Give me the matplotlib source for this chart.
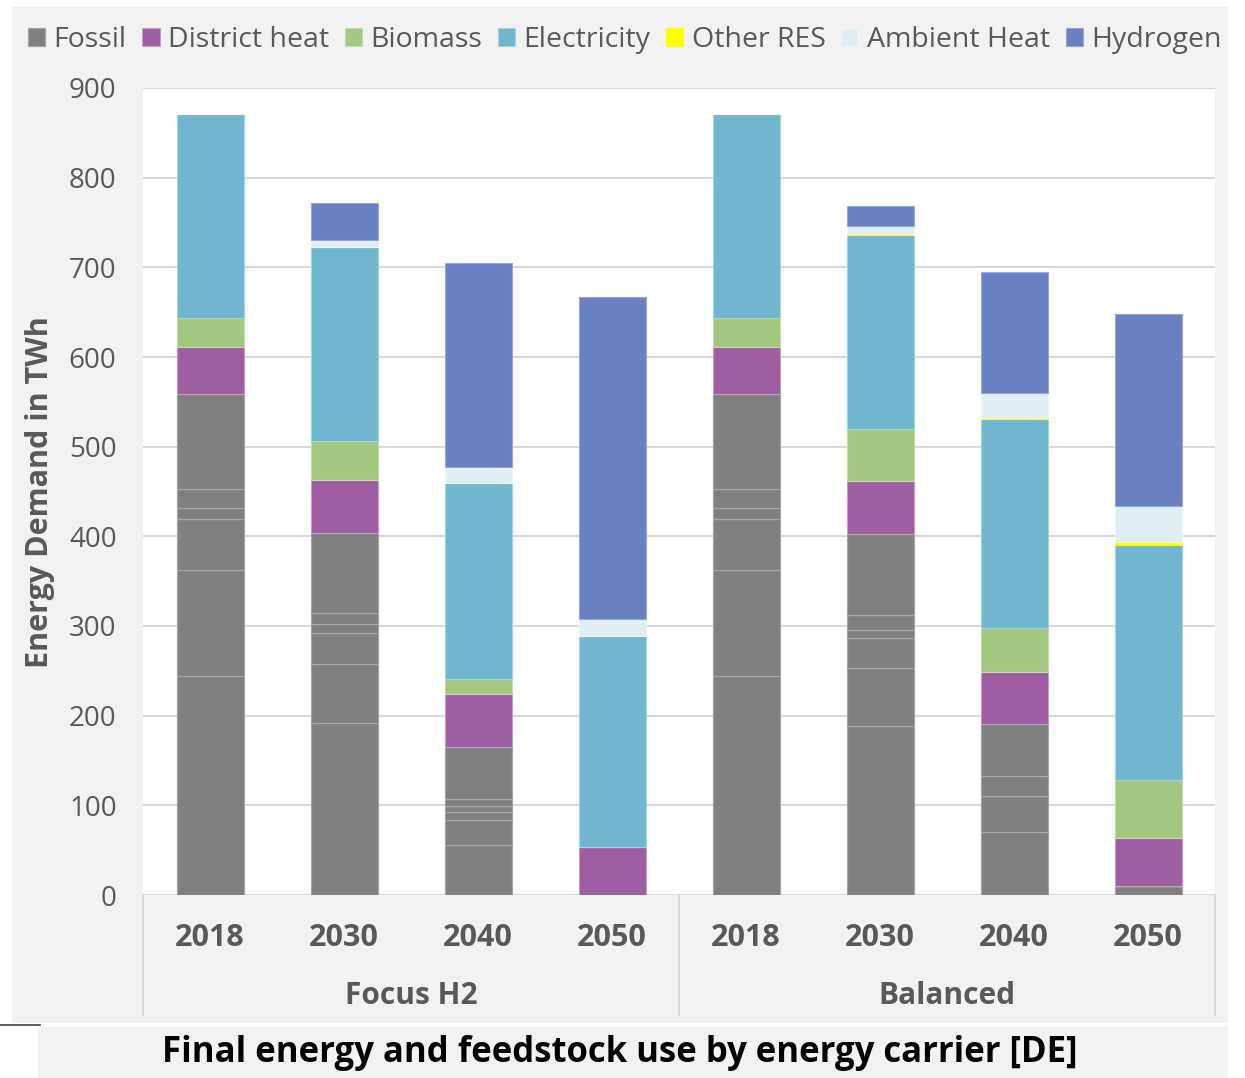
import numpy as np
import matplotlib.pyplot as plt
from matplotlib.patches import Rectangle
from matplotlib.lines import Line2D

plt.rcParams['font.family'] = ['Open Sans', 'DejaVu Sans']

# -----------------------------
# Data (TWh)
# -----------------------------
scenarios = ["Focus H2", "Balanced"]
years = ["2018", "2030", "2040", "2050"]

# fossil is split into several sub-carriers, all drawn in the same grey
fossil_layers = [
    [244.2, 191.5, 55.4, 0.0, 244.2, 188.8, 70.3, 9.7],
    [118.2, 65.7, 27.8, 0.0, 118.2, 64.0, 40.1, 0.0],
    [56.9, 34.6, 9.8, 0.0, 56.9, 33.5, 0.0, 0.0],
    [12.3, 10.0, 6.8, 0.0, 12.3, 9.2, 0.0, 0.0],
    [21.2, 13.0, 6.9, 0.0, 21.2, 16.6, 22.3, 0.0],
    [105.9, 88.5, 58.0, 0.0, 105.9, 90.0, 58.0, 0.0],
]
district_heat = [52.4, 59.8, 59.5, 53.5, 52.4, 59.6, 58.3, 54.2]
biomass = [32.4, 42.8, 16.3, 0.0, 32.4, 57.6, 48.8, 64.3]
electricity = [226.4, 216.8, 218.6, 235.3, 226.4, 217.0, 233.0, 262.1]
other_res = [0.0, 0.5, 0.0, 0.0, 0.0, 0.5, 1.5, 3.7]
ambient_heat = [0.0, 7.1, 17.8, 19.0, 0.0, 9.1, 27.1, 39.8]
hydrogen = [0.0, 41.4, 227.9, 359.1, 0.0, 22.4, 135.4, 214.2]

series = [
    ("District heat", district_heat, "#9e5ea2", "#c79bd0"),
    ("Biomass", biomass, "#a3c77f", "#c3dca8"),
    ("Electricity", electricity, "#70b6cf", "#a3d3e4"),
    ("Other RES", other_res, "#ffff00", "#ffff00"),
    ("Ambient Heat", ambient_heat, "#e1eff5", "#eef6f9"),
    ("Hydrogen", hydrogen, "#6b80c1", "#9aa8d8"),
]
fossil_color = "#7f7f7f"

W, H = 1245, 1078
fig = plt.figure(figsize=(W / 100, H / 100), dpi=100, facecolor="white")

# grey panels behind the chart and title
fig.patches.append(Rectangle((12 / W, 1 - 1023 / H), 1216 / W, 1016 / H,
                             transform=fig.transFigure, facecolor="#f2f2f2",
                             edgecolor="none", zorder=-10))
fig.patches.append(Rectangle((38 / W, 0), 1190 / W, 1 - 1027 / H,
                             transform=fig.transFigure, facecolor="#f2f2f2",
                             edgecolor="none", zorder=-10))
fig.lines.append(Line2D([0, 40 / W], [1 - 1025 / H] * 2, transform=fig.transFigure,
                        color="#404040", lw=1.2, zorder=-5))

ax = fig.add_axes([143 / W, 1 - 895 / H, (1215 - 143) / W, (895 - 88) / H])
ax.set_facecolor("white")

x = np.arange(len(scenarios) * len(years))
width = 0.5
bottom = np.zeros(len(x))

# -----------------------------
# Stacked bars
# -----------------------------
for i, layer in enumerate(fossil_layers):
    layer = np.array(layer)
    ax.bar(x, layer, width, bottom=bottom, color=fossil_color,
           edgecolor="#a6a6a6", linewidth=0.9,
           label="Fossil" if i == 0 else None, zorder=3)
    bottom += layer

for name, vals, col, edge in series:
    vals = np.array(vals)
    ax.bar(x, vals, width, bottom=bottom, color=col, edgecolor=edge,
           linewidth=0.8, label=name, zorder=3)
    bottom += vals

# -----------------------------
# Axes styling
# -----------------------------
ax.set_xlim(-0.5, len(x) - 0.5)
ax.set_ylim(0, 900)
ax.set_yticks(np.arange(0, 901, 100))
ax.yaxis.grid(True, color="#d9d9d9", lw=1.5, zorder=0)
ax.set_axisbelow(True)
for s in ax.spines.values():
    s.set_visible(False)
ax.tick_params(axis="y", length=0, pad=19, labelsize=20, labelcolor="#595959")

ax.set_xticks(x)
ax.set_xticklabels(years * len(scenarios), fontsize=22, fontweight="bold",
                   color="#595959")
ax.tick_params(axis="x", length=0, pad=20)

for k, sc in enumerate(scenarios):
    ax.text(k * 4 + 1.5, -0.125, sc, transform=ax.get_xaxis_transform(),
            ha="center", va="center", fontsize=21.5, fontweight="bold",
            color="#595959")
for xs in [-0.5, 3.5, 7.5]:
    ax.plot([xs, xs], [0, -0.149], transform=ax.get_xaxis_transform(),
            color="#d9d9d9", lw=1.5, clip_on=False)

fig.text(40 / W, 1 - 492 / H, "Energy Demand in TWh", rotation=90,
         ha="center", va="center", fontsize=22, fontweight="bold",
         color="#595959")

fig.text(620 / W, 1 - 1053 / H, "Final energy and feedstock use by energy carrier [DE]",
         ha="center", va="center", fontsize=25, fontweight="bold", color="black")

# -----------------------------
# Legend
# -----------------------------
h, l = ax.get_legend_handles_labels()
fig.legend(h, l, loc="center", bbox_to_anchor=(625 / W, 1 - 40 / H), ncol=7,
           frameon=False, fontsize=20.5, handlelength=0.6, handleheight=0.6,
           handletextpad=0.3, columnspacing=0.55, labelcolor="#595959",
           borderaxespad=0)

fig.savefig("out.png", dpi=100, facecolor=fig.get_facecolor())
